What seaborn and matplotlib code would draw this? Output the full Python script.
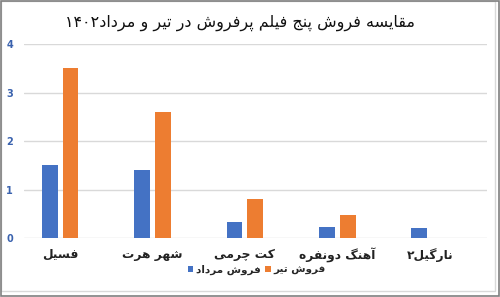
import matplotlib
matplotlib.use("Agg")
import matplotlib.pyplot as plt
from matplotlib.patches import Rectangle
import seaborn as sns
import pandas as pd

# ---- data ----
films = ["فسیل", "شهر هرت", "کت چرمی", "آهنگ دونفره", "نارگیل۲"]
mordad_sales = [1.5, 1.4, 0.33, 0.24, 0.22]
tir_sales = [3.5, 2.6, 0.81, 0.47, 0.0]
series_names = ["فروش مرداد", "فروش تیر"]
title_text = "مقایسه فروش پنج فیلم پرفروش در تیر و مرداد۱۴۰۲"
y_ticks = [0, 1, 2, 3, 4]

# ---- minimal Arabic/Persian shaping (matplotlib has no shaping) ----
# isolated, final, initial, medial
FORMS = {
    '\u0627': ('\uFE8D', '\uFE8E', None, None),
    '\u0622': ('\uFE81', '\uFE82', None, None),
    '\u062F': ('\uFEA9', '\uFEAA', None, None),
    '\u0630': ('\uFEAB', '\uFEAC', None, None),
    '\u0631': ('\uFEAD', '\uFEAE', None, None),
    '\u0632': ('\uFEAF', '\uFEB0', None, None),
    '\u0648': ('\uFEED', '\uFEEE', None, None),
    '\u0628': ('\uFE8F', '\uFE90', '\uFE91', '\uFE92'),
    '\u067E': ('\uFB56', '\uFB57', '\uFB58', '\uFB59'),
    '\u062A': ('\uFE95', '\uFE96', '\uFE97', '\uFE98'),
    '\u062C': ('\uFE9D', '\uFE9E', '\uFE9F', '\uFEA0'),
    '\u0686': ('\uFB7A', '\uFB7B', '\uFB7C', '\uFB7D'),
    '\u0633': ('\uFEB1', '\uFEB2', '\uFEB3', '\uFEB4'),
    '\u0634': ('\uFEB5', '\uFEB6', '\uFEB7', '\uFEB8'),
    '\u0641': ('\uFED1', '\uFED2', '\uFED3', '\uFED4'),
    '\u0642': ('\uFED5', '\uFED6', '\uFED7', '\uFED8'),
    '\u06A9': ('\uFB8E', '\uFB8F', '\uFB90', '\uFB91'),
    '\u06AF': ('\uFB92', '\uFB93', '\uFB94', '\uFB95'),
    '\u0644': ('\uFEDD', '\uFEDE', '\uFEDF', '\uFEE0'),
    '\u0645': ('\uFEE1', '\uFEE2', '\uFEE3', '\uFEE4'),
    '\u0646': ('\uFEE5', '\uFEE6', '\uFEE7', '\uFEE8'),
    '\u0647': ('\uFEE9', '\uFEEA', '\uFEEB', '\uFEEC'),
    '\u06CC': ('\uFBFC', '\uFBFD', '\uFBFE', '\uFBFF'),
    '\u064A': ('\uFEF1', '\uFEF2', '\uFEF3', '\uFEF4'),
}


def _dual(c):
    return c in FORMS and FORMS[c][2] is not None


def _joins(c):
    return c in FORMS


def shape(text):
    out = []
    n = len(text)
    for i, c in enumerate(text):
        if c not in FORMS:
            out.append(c)
            continue
        prev_c = text[i - 1] if i > 0 else ''
        next_c = text[i + 1] if i < n - 1 else ''
        jp = _dual(prev_c)
        jn = _dual(c) and _joins(next_c)
        iso, fin, ini, med = FORMS[c]
        if jp and jn:
            out.append(med)
        elif jp:
            out.append(fin)
        elif jn:
            out.append(ini)
        else:
            out.append(iso)
    # visual order: RTL, keep digit runs LTR
    runs = []
    for ch in out:
        is_d = ch.isdigit()
        if runs and runs[-1][0] == is_d:
            runs[-1][1].append(ch)
        else:
            runs.append([is_d, [ch]])
    vis = []
    for is_d, chars in reversed(runs):
        vis.extend(chars if is_d else reversed(chars))
    return ''.join(vis)


# ---- figure ----
sns.set_theme(style="white")
plt.rcParams['font.family'] = ['DejaVu Sans']

df = pd.DataFrame({
    "film": films * 2,
    "series": [series_names[0]] * len(films) + [series_names[1]] * len(films),
    "value": mordad_sales + tir_sales,
})

fig = plt.figure(figsize=(5.0, 2.97), dpi=100)
ax = fig.add_axes([24 / 500, 1 - 238.3 / 297, 463 / 500, (238.3 - 44) / 297])

sns.barplot(data=df, x="film", y="value", hue="series", order=films,
            hue_order=series_names, palette=["#4472C4", "#ED7D31"],
            saturation=1, width=0.45, gap=0.24, linewidth=0, ax=ax,
            legend=True)

ax.set_ylim(0, 4)
ax.set_xlim(-0.39, 4.62)
ax.set_yticks(y_ticks)
ax.set_yticklabels([str(v) for v in y_ticks], color="#3A62AE",
                   fontsize=7, fontweight="bold")
ax.set_xticks(range(len(films)))
ax.set_xticklabels([shape(f) for f in films], fontsize=8.8,
                   fontweight="bold", color="#222222")
ax.tick_params(axis="y", length=0, pad=8)
ax.tick_params(axis="x", length=0, pad=7)
ax.set_xlabel("")
ax.set_ylabel("")
for s in ax.spines.values():
    s.set_visible(False)
ax.yaxis.grid(True, color="#D9D9D9", linewidth=1)
ax.set_axisbelow(True)

handles, labels = ax.get_legend_handles_labels()
ax.get_legend().remove()
fig.legend(handles, [shape(l) for l in labels], loc="center",
           bbox_to_anchor=(257 / 500, 1 - 270 / 297), ncol=2, frameon=False,
           prop={"weight": "bold", "size": 7.5},
           handlelength=0.5, handleheight=0.5, handletextpad=0.3,
           columnspacing=0.4, borderpad=0)

fig.text(240 / 500, 1 - 23 / 297, shape(title_text), ha="center",
         va="center", fontsize=11.5, color="#111111")

# borders
fig.patches.append(Rectangle((0.002, 1 - 290.5 / 297), 494 / 500, 290 / 297,
                             transform=fig.transFigure, fill=False,
                             edgecolor="#D9D9D9", linewidth=1))
fig.patches.append(Rectangle((0.001, 0.002), 0.997, 0.996,
                             transform=fig.transFigure, fill=False,
                             edgecolor="#7F7F7F", linewidth=1.2))

fig.savefig("out.png", dpi=100)
